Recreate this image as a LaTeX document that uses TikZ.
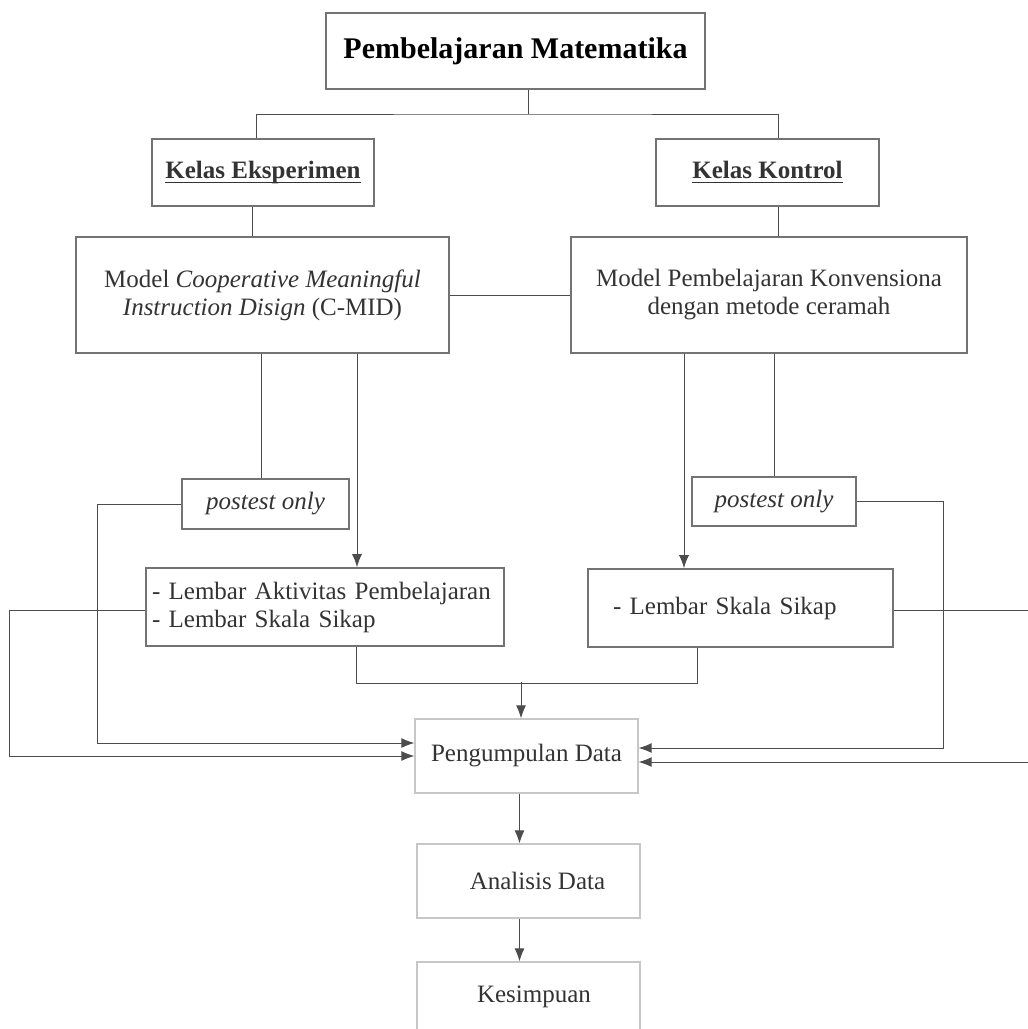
\documentclass[tikz,border=0pt]{standalone}
\usepackage{amsmath}
\usepackage{fontspec}
\setmainfont{Liberation Serif}
\usetikzlibrary{calc,positioning,arrows.meta}
\definecolor{boxgrey}{gray}{0.45}
\definecolor{lightgrey}{gray}{0.78}
\definecolor{linegrey}{gray}{0.3}
\definecolor{textgrey}{gray}{0.2}
\newcommand{\kelasul}[1]{\underline{\smash[b]{#1}}}

\begin{document}
\begin{tikzpicture}[x=1pt,y=-1pt]

\tikzset{box/.style={draw=boxgrey,line width=1.6pt,inner sep=0pt,font=\fontsize{25}{28}\selectfont,text=textgrey,align=center},
lightbox/.style={box,draw=lightgrey,line width=1.3pt},
link/.style={draw=linegrey,line width=1pt},
arr/.style={link,-{Latex[length=13pt,width=10pt]}}}

\clip (0,0) rectangle (1028,1029);

% top level
\node[box,font=\fontsize{30}{36}\selectfont\bfseries,text=black,minimum width=379pt,minimum height=76pt] (top) at (515.5,51) {Pembelajaran Matematika};
\node[box,font=\fontsize{25}{28}\selectfont\bfseries,minimum width=222pt,minimum height=67pt] (eks) at (263,172.5) {\kelasul{Kelas Eksperimen}};
\node[box,font=\fontsize{25}{28}\selectfont\bfseries,minimum width=223pt,minimum height=67pt] (kon) at (767.5,172.5) {\kelasul{Kelas Kontrol}};

% models
\node[box,minimum width=373pt,minimum height=116pt] (cmid) at (262.5,295) {Model \textit{Cooperative Meaningful}\\\textit{Instruction Disign} (C-MID)};
\node[box,minimum width=396pt,minimum height=116pt] (konv) at (769,295) {Model Pembelajaran Konvensiona\\dengan metode ceramah};

% postest and instruments
\node[box,font=\fontsize{25}{28}\selectfont\itshape,minimum width=167pt,minimum height=50pt] (post1) at (265.5,504) {postest only};
\node[box,font=\fontsize{25}{28}\selectfont\itshape,minimum width=164pt,minimum height=49pt] (post2) at (774,501.5) {postest only};
\node[box,align=left,text width=346pt,minimum width=358pt,minimum height=78pt] (lemb1) at (325,607) {- Lembar Aktivitas Pembelajaran\\- Lembar Skala Sikap};
\node[box,align=left,text width=255pt,minimum width=305pt,minimum height=78pt] (lemb2) at (740.5,608) {- Lembar Skala Sikap};

% data nodes
\node[lightbox,minimum width=223pt,minimum height=74pt] (kumpul) at (526.5,756) {Pengumpulan Data};
\node[lightbox,minimum width=223pt,minimum height=74pt] (analisis) at (528.5,881) {\hspace*{18pt}Analisis Data};
\node[lightbox,minimum width=223pt,minimum height=70pt] (simpul) at (528.5,997) {\hspace*{11pt}Kesimpuan};

% Edges
\coordinate (split) at (528,114);
\draw[link] (split |- top.south) -- (split);
\draw[link] ($(eks.north)+(-7,0)$) |- (split) -| ($(kon.north)+(10.5,0)$);
\draw[link] ($(eks.south)+(-11,0)$) coordinate (e1) -- (e1 |- cmid.north);
\draw[link] ($(kon.south)+(10.5,0)$) coordinate (k1) -- (k1 |- konv.north);
\draw[link] (cmid.east) -- (konv.west);

\coordinate (l1) at ($(lemb1.north)+(32,0)$);
\coordinate (l2) at ($(lemb2.north)+(-56.5,0)$);
\draw[link] ($(post1.north)+(-4,0)$) coordinate (p1) -- (p1 |- cmid.south);
\draw[arr] (l1 |- cmid.south) -- (l1);
\draw[arr] (l2 |- konv.south) -- (l2);
\draw[link] (post2.north |- konv.south) -- (post2.north);

% side lines into data collection
\coordinate (leftA) at ($(kumpul.west)+(-317,-13)$);
\coordinate (leftB) at ($(kumpul.west)+(-405,0)$);
\coordinate (rightA) at ($(kumpul.east)+(305,-8)$);
\coordinate (rightB) at ($(kumpul.east)+(394,6)$);
\draw[arr] (post1.west) -| (leftA) -- ($(kumpul.west)+(0,-13)$);
\draw[arr] ($(lemb1.west)+(0,3)$) -| (leftB) -- (kumpul.west);
\draw[arr] (post2.east) -| (rightA) -- ($(kumpul.east)+(0,-8)$);
\draw[arr] ($(lemb2.east)+(0,2)$) -| (rightB) -- ($(kumpul.east)+(0,6)$);

\draw[link] ($(lemb1.south)+(31,0)$) |- ($(lemb2.south)+(-43.5,36)$) -- ($(lemb2.south)+(-43.5,0)$);
\coordinate (join) at ($(kumpul.north)+(-5.5,-36)$);
\draw[arr] (join) -- (join |- kumpul.north);
\coordinate (down) at ($(kumpul.south)+(-7,0)$);
\draw[arr] (down) -- (down |- analisis.north);
\draw[arr] (down |- analisis.south) -- (down |- simpul.north);

\end{tikzpicture}
\end{document}
